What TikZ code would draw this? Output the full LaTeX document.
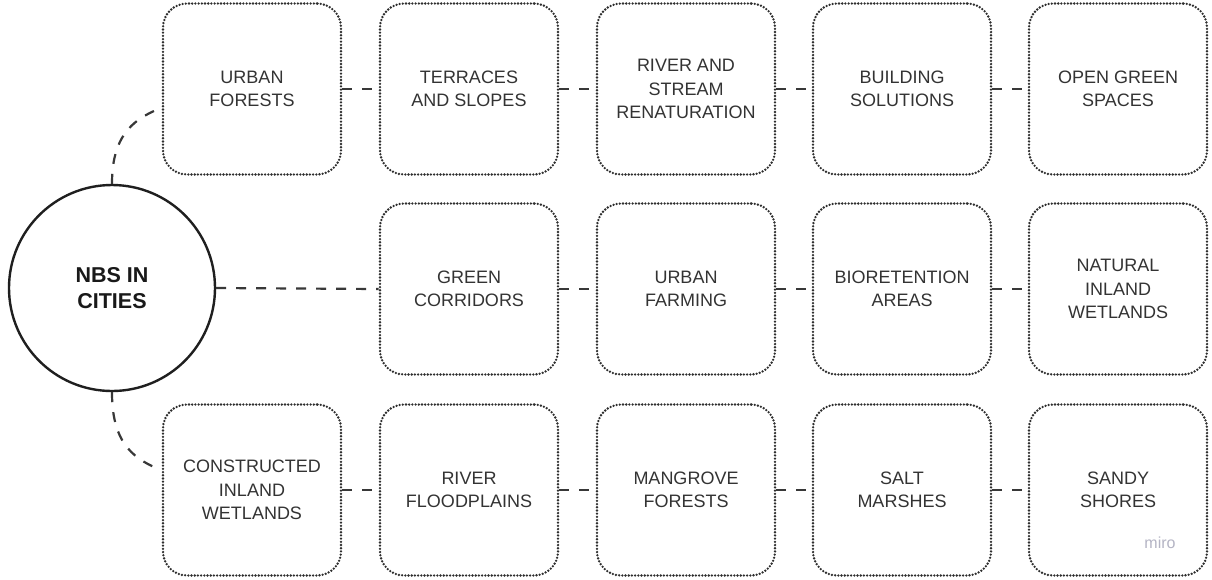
\documentclass[tikz,border=0pt]{standalone}
\usepackage{fontspec}
\setmainfont{Liberation Sans}
\begin{document}
\begin{tikzpicture}[x=1pt,y=-1pt,
  boxtext/.style={font=\fontsize{18}{23.5}\selectfont, text=black!80, align=center},
  nbsbox/.style={draw=black!82, line width=2.6pt, line cap=round, dash pattern=on 0pt off 3.2pt,
    rounded corners=24pt, minimum width=178pt, minimum height=171pt, inner sep=0pt, boxtext},
  hub/.style={circle, draw=black!88, line width=2.4pt, minimum size=206pt, inner sep=0pt,
    font=\bfseries\fontsize{21.5}{26}\selectfont, text=black!90, align=center},
  link/.style={draw=black!78, line width=2.2pt, dash pattern=on 10pt off 10pt}
]
\useasboundingbox (0,0) rectangle (1212,579);
\fill[white] (0,0) rectangle (1212,579);

\node[hub] (c) at (112,288) {NBS IN\\CITIES};

% row 1
\node[nbsbox] (a1) at (252,89) {URBAN\\FORESTS};
\node[nbsbox] (a2) at (469,89) {TERRACES\\AND SLOPES};
\node[nbsbox] (a3) at (686,89) {RIVER AND\\STREAM\\RENATURATION};
\node[nbsbox] (a4) at (902,89) {BUILDING\\SOLUTIONS};
\node[nbsbox] (a5) at (1118,89) {OPEN GREEN\\SPACES};
% row 2
\node[nbsbox] (b2) at (469,289) {GREEN\\CORRIDORS};
\node[nbsbox] (b3) at (686,289) {URBAN\\FARMING};
\node[nbsbox] (b4) at (902,289) {BIORETENTION\\AREAS};
\node[nbsbox] (b5) at (1118,289) {NATURAL\\INLAND\\WETLANDS};
% row 3
\node[nbsbox] (c1) at (252,490) {CONSTRUCTED\\INLAND\\WETLANDS};
\node[nbsbox] (c2) at (469,490) {RIVER\\FLOODPLAINS};
\node[nbsbox] (c3) at (686,490) {MANGROVE\\FORESTS};
\node[nbsbox] (c4) at (902,490) {SALT\\MARSHES};
\node[nbsbox] (c5) at (1118,490) {SANDY\\SHORES};

\node[font=\fontsize{16}{18}\selectfont, text={rgb,255:red,180;green,180;blue,196}] (logo) at (1160,543) {miro};

% connectors
\draw[link] (a1.east) -- (a2.west);
\draw[link] (a2.east) -- (a3.west);
\draw[link] (a3.east) -- (a4.west);
\draw[link] (a4.east) -- (a5.west);
\draw[link] (c.east) -- (b2.west);
\draw[link] (b2.east) -- (b3.west);
\draw[link] (b3.east) -- (b4.west);
\draw[link] (b4.east) -- (b5.west);
\draw[link] (c1.east) -- (c2.west);
\draw[link] (c2.east) -- (c3.west);
\draw[link] (c3.east) -- (c4.west);
\draw[link] (c4.east) -- (c5.west);

\coordinate (ta) at (154,111);
\coordinate (tc) at (154,467);
\draw[link] (c.north) .. controls (112,145) and (125,124) .. (ta);
\draw[link] (c.south) .. controls (112,433) and (125,454) .. (tc);
\end{tikzpicture}
\end{document}
